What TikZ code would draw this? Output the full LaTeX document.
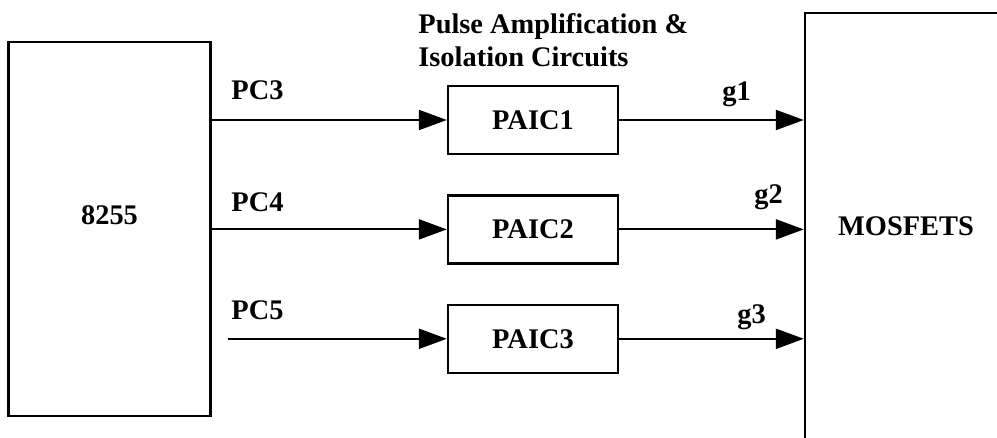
\documentclass[tikz,border=0pt]{standalone}
\usepackage{fontspec}
\setmainfont{Liberation Serif}
\usetikzlibrary{arrows.meta,positioning}

\begin{document}
\begin{tikzpicture}[
  x=0.5pt, y=-0.5pt,
  font=\fontsize{14.2}{16.5}\selectfont\bfseries,
  node distance=19.5pt,
  unit/.style={draw, line width=1.2pt, inner sep=0pt},
  paic/.style={unit, minimum width=85pt, minimum height=34pt},
  sig/.style={inner sep=0pt, anchor=base west},
  wire/.style={line width=1.1pt, -{Triangle[length=14pt,width=10pt]}}
]
\clip (0,0) rectangle (997,438);

% port chip and switch bank
\node[unit, minimum width=101pt, minimum height=187pt,
  label={[name=ppitxt, yshift=7pt]center:8255}] (ppi) at (109.5,229) {};
\node[unit, minimum width=101pt, minimum height=213pt] (fets) at (906,226) {MOSFETS};

% amplification / isolation stages
\node[paic] (paic1) at (533,120) {PAIC1};
\node[paic, below=of paic1] (paic2) {PAIC2};
\node[paic, below=of paic2] (paic3) {PAIC3};
\node[align=left, anchor=north west, inner sep=0pt] (title) at (418,13)
  {Pulse Amplification \&\\Isolation Circuits};

\coordinate (pc5end) at (228,0 |- paic3);

% port lines in
\draw[wire] (ppi.east |- paic1) -- (paic1.west);
\draw[wire] (ppi.east |- paic2) -- (paic2.west);
\draw[wire] (pc5end) -- (paic3.west);
\node[sig] (pc3) at (231,100) {PC3};
\node[sig] (pc4) at (231,212) {PC4};
\node[sig] (pc5) at (231,320) {PC5};

% gate lines out
\draw[wire] (paic1) -- (fets.west |- paic1);
\draw[wire] (paic2) -- (fets.west |- paic2);
\draw[wire] (paic3) -- (fets.west |- paic3);
\node[sig] (g1) at (722,101) {g1};
\node[sig] (g2) at (754,204) {g2};
\node[sig] (g3) at (737,324) {g3};

\end{tikzpicture}
\end{document}
